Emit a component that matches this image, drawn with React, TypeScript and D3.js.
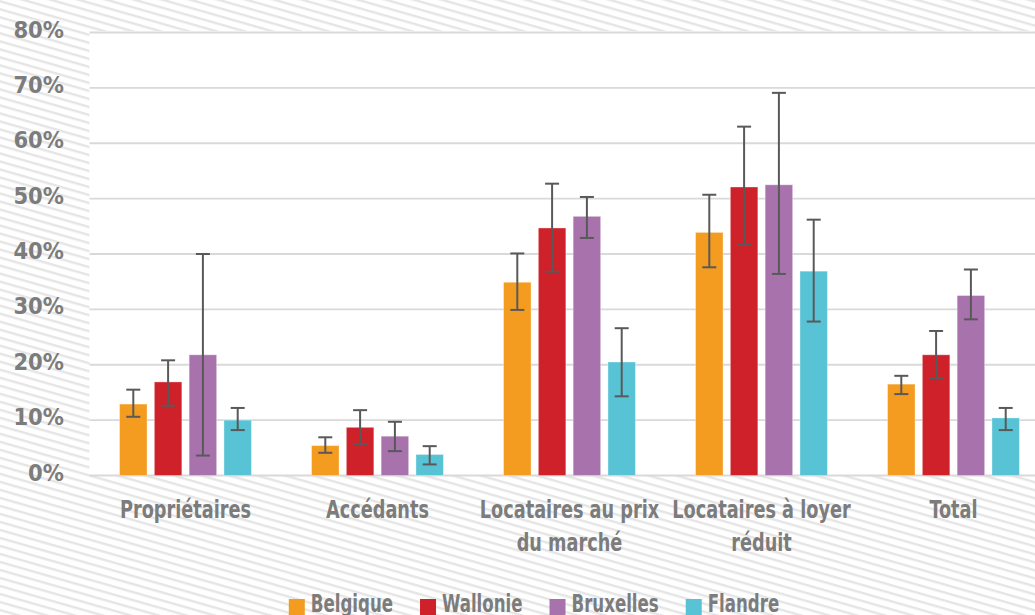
import React, { useEffect, useRef } from "react";
import * as d3 from "d3";

const categories = ["Propriétaires", "Accédants", "Locataires au prix|du marché", "Locataires à loyer|réduit", "Total"];
const series = ["Belgique", "Wallonie", "Bruxelles", "Flandre"];
const colors = ["#F39C1F", "#CF2129", "#A873AC", "#58C3D5"];
// values in % per series, one entry per category
const belgique = [12.9, 5.4, 34.9, 43.9, 16.5];
const wallonie = [16.9, 8.7, 44.7, 52.1, 21.8];
const bruxelles = [21.8, 7.1, 46.8, 52.5, 32.5];
const flandre = [10.0, 3.8, 20.5, 36.9, 10.4];
// confidence interval bounds
const belgiqueLow = [10.6, 4.1, 29.9, 37.6, 14.7];
const belgiqueHigh = [15.5, 6.9, 40.1, 50.7, 18.0];
const wallonieLow = [12.6, 5.7, 36.8, 41.7, 17.6];
const wallonieHigh = [20.8, 11.8, 52.7, 63.0, 26.1];
const bruxellesLow = [3.6, 4.4, 42.9, 36.4, 28.2];
const bruxellesHigh = [40.0, 9.7, 50.3, 69.1, 37.2];
const flandreLow = [8.2, 2.0, 14.3, 27.8, 8.2];
const flandreHigh = [12.2, 5.3, 26.6, 46.2, 12.2];
const yTicks = [0, 10, 20, 30, 40, 50, 60, 70, 80];

const values = [belgique, wallonie, bruxelles, flandre];
const lows = [belgiqueLow, wallonieLow, bruxellesLow, flandreLow];
const highs = [belgiqueHigh, wallonieHigh, bruxellesHigh, flandreHigh];

const W = 1035;
const H = 615;
const FONT = "'DejaVu Sans Condensed', 'DejaVu Sans', sans-serif";
const TXT = "#7c7c7c";
const SX = 0.82;
const SXL = 0.77;

export default function App() {
  const ref = useRef<SVGSVGElement>(null);

  useEffect(() => {
    const svg = d3.select(ref.current);
    svg.selectAll("*").remove();

    const defs = svg.append("defs");
    const pat = defs
      .append("pattern")
      .attr("id", "stripes")
      .attr("patternUnits", "userSpaceOnUse")
      .attr("width", 12)
      .attr("height", 7.7)
      .attr("patternTransform", "rotate(16)");
    pat.append("rect").attr("width", 12).attr("height", 7.7).attr("fill", "#ffffff");
    pat.append("rect").attr("y", 0).attr("width", 12).attr("height", 2.4).attr("fill", "#e5e5e5");

    svg.append("rect").attr("width", W).attr("height", H).attr("fill", "url(#stripes)");

    const left = 89.5;
    const y = d3.scaleLinear().domain([0, 80]).range([475.5, 32.5]);
    const x0 = d3.scaleBand<string>().domain(categories).range([left, left + 960]).padding(0);
    const groupW = 131.9;
    const x1 = d3.scaleBand<string>().domain(series).range([0, groupW]).paddingInner(0.21).paddingOuter(0);

    // plot area
    svg
      .append("rect")
      .attr("x", left)
      .attr("y", y(80) - 1.5)
      .attr("width", W - left)
      .attr("height", y(0) - y(80) + 1.5)
      .attr("fill", "#ffffff");

    // gridlines
    svg
      .append("g")
      .selectAll("line")
      .data(yTicks)
      .join("line")
      .attr("x1", left)
      .attr("x2", W)
      .attr("y1", (d) => y(d))
      .attr("y2", (d) => y(d))
      .attr("stroke", "#d9d9d9")
      .attr("stroke-width", (d) => (d === 0 ? 2.2 : 1.8));

    // y labels
    svg
      .append("g")
      .selectAll("text")
      .data(yTicks)
      .join("text")
      .attr("x", 64)
      .attr("y", (d) => y(d) + 5)
      .attr("text-anchor", "end")
      .attr("font-family", FONT)
      .attr("font-weight", "bold")
      .attr("font-size", 23.5)
      .attr("fill", TXT)
      .text((d) => `${d}%`);

    // bars
    const groups = svg
      .append("g")
      .selectAll("g")
      .data(categories)
      .join("g")
      .attr("transform", (c) => `translate(${x0(c)! + x0.bandwidth() / 2 - groupW / 2},0)`);

    groups.each(function (c, ci) {
      const g = d3.select(this);
      series.forEach((s, si) => {
        const v = values[si][ci];
        g.append("rect")
          .attr("x", x1(s)!)
          .attr("y", y(v))
          .attr("width", x1.bandwidth())
          .attr("height", y(0) - y(v))
          .attr("fill", colors[si])
          .attr("stroke", "#ffffff")
          .attr("stroke-opacity", 0.35)
          .attr("stroke-width", 1);
      });
      series.forEach((s, si) => {
        const cx = x1(s)! + x1.bandwidth() / 2;
        const lo = lows[si][ci];
        const hi = highs[si][ci];
        const eb = g.append("g").attr("stroke", "#595959").attr("stroke-width", 2);
        eb.append("line").attr("x1", cx).attr("x2", cx).attr("y1", y(hi)).attr("y2", y(lo));
        eb.append("line").attr("x1", cx - 7).attr("x2", cx + 7).attr("y1", y(hi)).attr("y2", y(hi));
        eb.append("line").attr("x1", cx - 7).attr("x2", cx + 7).attr("y1", y(lo)).attr("y2", y(lo));
      });
    });

    // category labels
    const catG = svg.append("g");
    categories.forEach((c) => {
      const lines = c.split("|");
      const cx = x0(c)! + x0.bandwidth() / 2;
      lines.forEach((l, i) => {
        catG
          .append("g")
          .attr("transform", `translate(${cx},${518 + i * 33}) scale(${SX},1)`)
          .append("text")
          .attr("x", 0)
          .attr("y", 0)
          .attr("text-anchor", "middle")
          .attr("font-family", FONT)
          .attr("font-weight", "bold")
          .attr("font-size", 24)
          .attr("fill", TXT)
          .text(l);
      });
    });

    // legend
    const leg = svg.append("g");
    const items = series.map((s, i) => {
      const g = leg.append("g");
      g.append("rect").attr("x", 0).attr("y", 599).attr("width", 16).attr("height", 16).attr("fill", colors[i]);
      const t = g
        .append("g")
        .attr("transform", `translate(22,611.5) scale(${SXL},1)`)
        .append("text")
        .attr("x", 0)
        .attr("y", 0)
        .attr("font-family", FONT)
        .attr("font-weight", "bold")
        .attr("font-size", 24)
        .attr("fill", TXT)
        .text(s);
      const w = (t.node() as SVGTextElement).getComputedTextLength() * SXL;
      return { g, w: 22 + w };
    });
    const gap = 27;
    const total = d3.sum(items, (d) => d.w) + gap * (items.length - 1);
    let cur = 534 - total / 2;
    items.forEach((it) => {
      it.g.attr("transform", `translate(${cur},0)`);
      cur += it.w + gap;
    });
  }, []);

  return (
    <svg
      ref={ref}
      width={W}
      height={H}
      style={{ position: "absolute", left: 0, top: 0, display: "block" }}
    />
  );
}
